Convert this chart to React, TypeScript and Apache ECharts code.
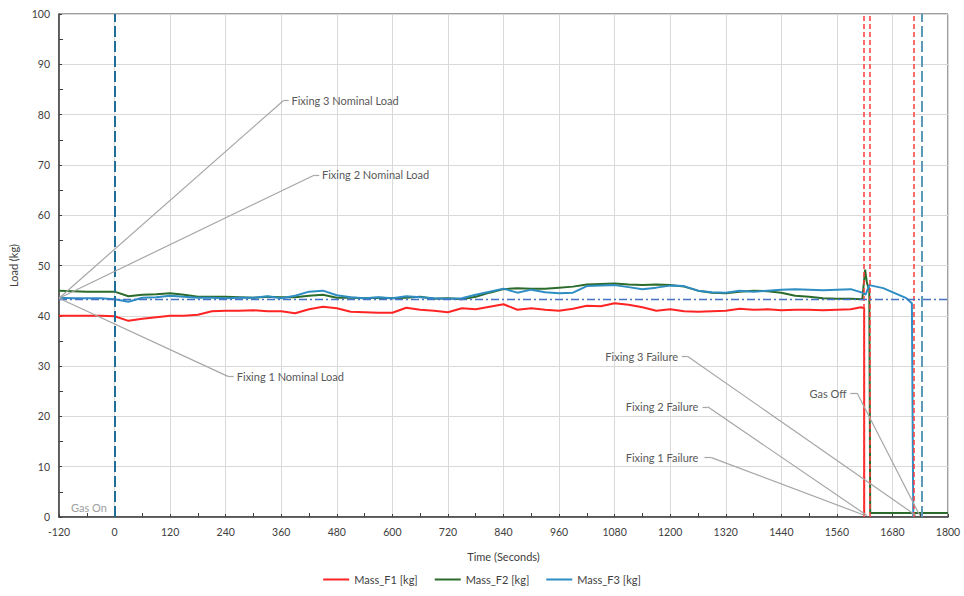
import React, { useEffect, useRef } from "react";
import * as echarts from "echarts";

// Time stamps (s) shared by the three load records before failure
const times = [
  -120, -90, -60, -30, 0, 30, 60, 90, 120, 150, 180, 210, 240, 270, 300, 330, 360, 390, 420, 450,
  480, 510, 540, 570, 600, 630, 660, 690, 720, 750, 780, 810, 840, 870, 900, 930, 960, 990, 1020,
  1050, 1080, 1110, 1140, 1170, 1200, 1230, 1260, 1290, 1320, 1350, 1380, 1410, 1440, 1470, 1500,
  1530, 1560, 1590,
];

const massF1 = [
  40.0, 40.0, 40.0, 40.0, 39.9, 39.0, 39.4, 39.7, 40.0, 40.0, 40.2, 40.9, 41.0, 41.0, 41.1, 40.9,
  40.9, 40.5, 41.3, 41.8, 41.5, 40.8, 40.7, 40.6, 40.6, 41.6, 41.2, 41.0, 40.7, 41.5, 41.3, 41.8,
  42.3, 41.2, 41.5, 41.2, 41.0, 41.4, 42.0, 41.9, 42.5, 42.2, 41.7, 41.0, 41.3, 40.9, 40.8, 40.9,
  41.0, 41.4, 41.2, 41.3, 41.1, 41.2, 41.2, 41.1, 41.2, 41.3,
];
const massF2 = [
  45.0, 44.9, 44.8, 44.8, 44.8, 43.9, 44.2, 44.3, 44.5, 44.2, 43.8, 43.8, 43.8, 43.7, 43.6, 43.8,
  43.7, 43.7, 44.0, 44.2, 43.6, 43.6, 43.5, 43.6, 43.5, 43.6, 43.8, 43.4, 43.5, 43.3, 43.8, 44.6,
  45.3, 45.5, 45.4, 45.4, 45.6, 45.8, 46.2, 46.3, 46.4, 46.2, 46.1, 46.2, 46.1, 45.8, 45.0, 44.6,
  44.5, 44.8, 45.0, 44.9, 44.6, 44.0, 43.8, 43.5, 43.4, 43.4,
];
const massF3 = [
  43.6, 43.5, 43.5, 43.5, 43.3, 42.8, 43.6, 43.7, 44.0, 43.8, 43.6, 43.6, 43.5, 43.6, 43.6, 43.9,
  43.5, 44.0, 44.8, 45.0, 44.1, 43.7, 43.5, 43.7, 43.5, 43.9, 43.7, 43.5, 43.4, 43.5, 44.2, 44.8,
  45.4, 44.6, 45.2, 44.7, 44.5, 44.6, 45.9, 46.0, 46.1, 45.7, 45.3, 45.6, 46.0, 45.9, 45.0, 44.7,
  44.6, 45.0, 44.8, 45.0, 45.2, 45.3, 45.2, 45.1, 45.2, 45.3,
];

// Tails around failure
const tailF1Times = [1612, 1619, 1619];
const tailF1 = [41.7, 41.5, 0];
const tailF2Times = [1615, 1621, 1625, 1630, 1632, 1800];
const tailF2 = [43.3, 49.2, 46.5, 45.2, 0.8, 0.8];
const tailF3Times = [1615, 1622, 1630, 1660, 1690, 1710, 1722, 1725];
const tailF3 = [44.6, 44.2, 46.1, 45.5, 44.3, 43.5, 42.5, 0];

// Events (s) and nominal load (kg)
const gasOnTime = 0;
const gasOffTime = 1743;
const failureTimes = [1619, 1632, 1725];
const nominalLoad = 43.2;

// Annotations: [label, anchorT, anchorY, elbowT, elbowY, endT, textT]
const nominalNotes: [string, number, number, number, number, number, number][] = [
  ["Fixing 3 Nominal Load", -120, 43.5, 365, 82.8, 376, 382],
  ["Fixing 2 Nominal Load", -120, 43.5, 432, 68.0, 442, 448],
  ["Fixing 1 Nominal Load", -120, 43.5, 246, 27.9, 257, 264],
];
const failureNotes: [string, number, number, number, number, number, number][] = [
  ["Fixing 3 Failure", 1731, 0.3, 1238, 31.9, 1225, 1217],
  ["Fixing 2 Failure", 1625, 0.3, 1281, 21.9, 1270, 1261],
  ["Fixing 1 Failure", 1621, 0.3, 1289, 11.8, 1274, 1261],
  ["Gas Off", 1739, 0.3, 1604, 24.6, 1589, 1581],
];
const gasOnLabel = { text: "Gas On", t: -94, y: 1.9 };

const FONT = "Lato";
const RED = "#FF2424";
const GREEN = "#2B6B2B";
const BLUE = "#2E8DC2";
const LEADER = "#A6A6A6";
const NOTE = "#595959";

function zip(ts: number[], vs: number[]) {
  return ts.map((t, i) => [t, vs[i]]);
}

export default function App() {
  const ref = useRef<HTMLDivElement>(null);
  useEffect(() => {
    if (!ref.current) return;
    const chart = echarts.init(ref.current, undefined, { renderer: "svg" });

    const leaderLines: any[] = [];
    const notePoints: any[] = [];
    nominalNotes.forEach(([name, at, ay, et, ey, endT, textT]) => {
      leaderLines.push([{ coord: [at, ay] }, { coord: [et, ey] }]);
      leaderLines.push([{ coord: [et, ey] }, { coord: [endT, ey] }]);
      notePoints.push({ name, coord: [textT, ey], label: { position: "right", distance: 0 } });
    });
    failureNotes.forEach(([name, at, ay, et, ey, endT, textT]) => {
      leaderLines.push([{ coord: [at, ay] }, { coord: [et, ey] }]);
      leaderLines.push([{ coord: [et, ey] }, { coord: [endT, ey] }]);
      notePoints.push({ name, coord: [textT, ey], label: { position: "left", distance: 0 } });
    });
    notePoints.push({
      name: gasOnLabel.text,
      coord: [gasOnLabel.t, gasOnLabel.y],
      label: { position: "right", distance: 0, color: "#9E9E9E" },
    });

    const vLine = (x: number, color: string, width: number, dash: number[]) => ({
      xAxis: x,
      lineStyle: { color, width, type: dash },
    });

    const axisCommon = {
      nameLocation: "middle",
      nameTextStyle: { fontSize: 11, color: "#404040", fontFamily: FONT },
      axisLine: { show: true, onZero: false, lineStyle: { color: "#404040", width: 1.5 } },
      axisTick: { show: true, inside: true, length: 3, lineStyle: { color: "#404040" } },
      minorTick: { show: true, splitNumber: 2, length: 4, lineStyle: { color: "#404040" } },
      axisLabel: {
        fontSize: 10.5,
        color: "#404040",
        margin: 9,
        fontFamily: FONT,
        formatter: (v: number) => String(v),
      },
      splitLine: { show: true, lineStyle: { color: "#D9D9D9", width: 1 } },
    };

    chart.setOption({
      animation: false,
      textStyle: { fontFamily: FONT },
      grid: {
        left: 57,
        right: 16,
        top: 14,
        bottom: 79,
        show: true,
        borderColor: "#3F3F3F",
        borderWidth: 1,
      },
      legend: {
        data: ["Mass_F1 [kg]", "Mass_F2 [kg]", "Mass_F3 [kg]"],
        bottom: 6,
        left: "center",
        icon: "rect",
        itemWidth: 26,
        itemHeight: 2,
        itemGap: 17,
        textStyle: { fontSize: 11, color: "#404040", fontFamily: FONT },
      },
      xAxis: {
        type: "value",
        min: -120,
        max: 1800,
        interval: 120,
        name: "Time (Seconds)",
        nameGap: 34,
        ...axisCommon,
      },
      yAxis: {
        type: "value",
        min: 0,
        max: 100,
        interval: 10,
        name: "Load (kg)",
        nameGap: 40,
        ...axisCommon,
      },
      series: [
        {
          name: "Mass_F1 [kg]",
          type: "line",
          showSymbol: false,
          symbol: "none",
          color: RED,
          lineStyle: { color: RED, width: 2 },
          data: zip(times, massF1).concat(zip(tailF1Times, tailF1)),
          z: 3,
        },
        {
          name: "Mass_F2 [kg]",
          type: "line",
          showSymbol: false,
          symbol: "none",
          color: GREEN,
          lineStyle: { color: GREEN, width: 2 },
          data: zip(times, massF2).concat(zip(tailF2Times, tailF2)),
          z: 3,
        },
        {
          name: "Mass_F3 [kg]",
          type: "line",
          showSymbol: false,
          symbol: "none",
          color: BLUE,
          lineStyle: { color: BLUE, width: 2 },
          data: zip(times, massF3).concat(zip(tailF3Times, tailF3)),
          z: 4,
        },
        {
          name: "events",
          type: "line",
          data: [],
          silent: true,
          z: 2,
          markLine: {
            silent: true,
            symbol: ["none", "none"],
            label: { show: false },
            animation: false,
            data: [
              vLine(gasOnTime, "#1F6E97", 2, [11, 4]),
              ...failureTimes.map((t) => vLine(t, "#FF3B3B", 1.5, [5, 3])),
              vLine(gasOffTime, "#5B9BB8", 2, [11, 4]),
              {
                yAxis: nominalLoad,
                lineStyle: { color: "#4472C4", width: 1.4, type: [8, 3, 2, 3] },
              },
            ],
          },
        },
        {
          name: "notes",
          type: "line",
          data: [],
          silent: true,
          z: 5,
          markLine: {
            silent: true,
            symbol: ["none", "none"],
            label: { show: false },
            lineStyle: { color: LEADER, width: 1.2, type: "solid" },
            data: leaderLines,
          },
          markPoint: {
            silent: true,
            symbol: "circle",
            symbolSize: 0,
            itemStyle: { color: "transparent" },
            label: {
              show: true,
              formatter: "{b}",
              fontSize: 11,
              color: NOTE,
              fontFamily: FONT,
            },
            data: notePoints,
          },
        },
      ],
    });
    return () => chart.dispose();
  }, []);
  return (
    <div
      ref={ref}
      style={{ position: "fixed", left: 0, top: 0, width: 964, height: 596, background: "#fff" }}
    />
  );
}
